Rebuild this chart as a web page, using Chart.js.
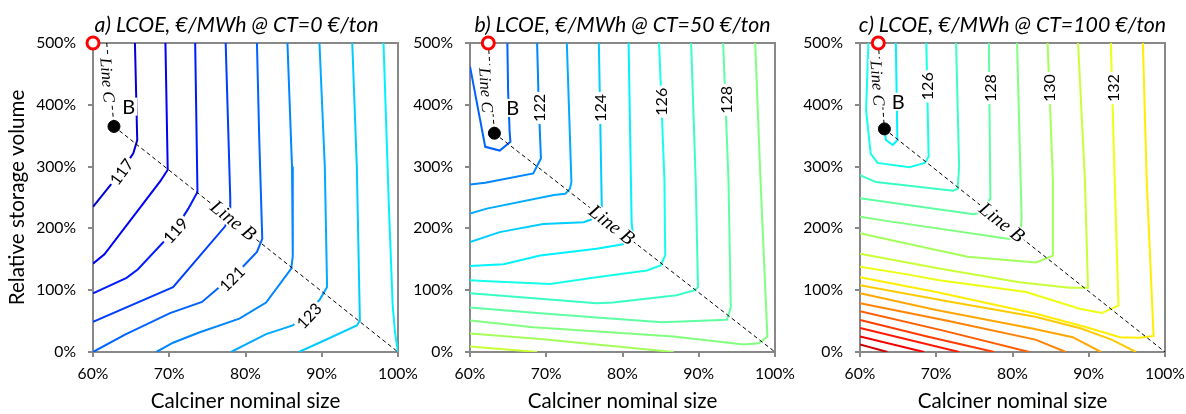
<!DOCTYPE html>
<html>
<head>
<meta charset="utf-8">
<script src="https://cdn.jsdelivr.net/npm/chart.js@4.4.1/dist/chart.umd.min.js"></script>
<style>
  html, body { margin: 0; padding: 0; background: #fff; }
  #wrap { position: relative; width: 1186px; height: 414px; }
  #wrap canvas { position: absolute; left: 0; top: 0; }
</style>
</head>
<body>
<div id="wrap">
  <canvas id="ca" width="1186" height="414"></canvas>
  <canvas id="cb" width="1186" height="414"></canvas>
  <canvas id="cc" width="1186" height="414"></canvas>
</div>
<script>
// ticks and titles
const xTicks = [60, 70, 80, 90, 100];
const yTicks = [0, 100, 200, 300, 400, 500];
const titles = ["a) LCOE, €/MWh @ CT=0 €/ton", "b) LCOE, €/MWh @ CT=50 €/ton", "c) LCOE, €/MWh @ CT=100 €/ton"];

// contour lines: [level, [[calciner size %, storage volume %], ...]]
const contoursA = [
  [117, [[65.5,500],[65.8,343],[65.3,322],[63.7,292],[60,235]]],
  [118, [[69.5,500],[69.8,295],[68.8,276],[61.5,158],[60,143]]],
  [119, [[73.4,500],[73.7,259],[72.5,232],[70.7,197],[65.9,134],[64.4,120],[60,95]]],
  [120, [[77.4,500],[78.0,249],[78.0,222],[77.3,203],[70.5,105],[60,49]]],
  [121, [[81.5,500],[81.8,346],[82.2,183],[81.5,162],[79.5,136],[74.3,81],[70.1,63],[64.2,28],[60,0]]],
  [122, [[85.5,500],[86.1,300],[86.2,155],[86.0,135],[82.7,80],[79.2,54],[74.0,32],[70.5,15],[68.3,0]]],
  [123, [[89.7,500],[90.4,300],[90.7,105],[89.7,84],[86.2,43],[82.7,29],[78.1,0]]],
  [124, [[94.0,500],[94.6,300],[95.0,51],[94.6,43],[90.4,19],[87.0,0]]],
  [125, [[98.1,500],[98.8,238],[99.3,76],[99.6,32],[100,0]]]
];
const contoursB = [
  [121, [[60,462],[62.0,332],[63.9,326],[65.3,340],[65.2,356],[65.0,421],[64.9,500]]],
  [122, [[68.8,500],[69.0,408],[69.3,313],[68.3,289],[62.0,274],[60,271]]],
  [123, [[72.7,500],[73.3,275],[73.1,264],[72.5,256],[71.0,254],[62.2,232],[60,224]]],
  [124, [[76.9,500],[77.3,223],[75.8,214],[74.9,210],[69.6,207],[63.9,194],[60,178]]],
  [125, [[80.8,500],[81.2,208],[81.4,189],[80.8,178],[79.9,174],[76.6,167],[69.2,156],[64.4,142],[60,139]]],
  [126, [[84.8,500],[85.5,278],[85.6,156],[85.0,140],[83.2,132],[76.6,121],[70.5,110],[61.8,115],[60,116]]],
  [127, [[89.0,500],[89.6,278],[89.9,105],[89.5,100],[87.1,92],[78.8,80],[76.6,79],[69.2,86],[60,95]]],
  [128, [[93.2,500],[93.9,278],[94.2,72],[93.7,52],[85.2,48],[76.6,56],[68.8,63],[60,72]]],
  [129, [[97.4,500],[98.1,278],[99.0,25],[97.9,14],[95.9,12],[86.7,25],[68.3,40],[60,51]]],
  [130, [[60,30],[69.2,21],[86.7,0]]],
  [131, [[60,9],[68.8,0]]]
];
const contoursC = [
  [125, [[64.7,500],[64.9,343],[64.3,335],[63.4,343],[63.2,361]]],
  [126, [[61.1,500],[60.8,391],[61.4,321],[62.3,306],[66.5,299],[68.5,306],[69.0,316],[68.7,500]]],
  [127, [[60,286],[62.1,275],[72.2,261],[72.8,264],[73.0,299],[72.6,500]]],
  [128, [[60,249],[74.9,223],[76.0,226],[77.1,249],[76.9,500]]],
  [129, [[60,219],[63.0,213],[79.6,183],[81.0,185],[81.2,216],[80.6,500]]],
  [130, [[60,192],[63.4,183],[74.1,154],[83.1,145],[85.3,156],[85.3,278],[84.6,500]]],
  [131, [[60,159],[70.4,135],[80.9,113],[87.5,104],[89.9,104],[89.5,278],[88.6,500]]],
  [132, [[60,138],[66.0,126],[70.4,116],[81.8,97],[88.8,70],[91.7,63],[93.9,75],[93.4,278],[92.9,500]]],
  [133, [[60,121],[70.0,97],[83.1,62],[89.7,40],[94.1,24],[96.7,23],[98.5,26],[97.6,278],[97.1,500]]],
  [134, [[60,108],[72,81],[83,57],[89,38],[93,20],[96.2,0]]],
  [135, [[60,95],[70,68],[82.6,38],[87.9,24],[91.6,0]]],
  [136, [[60,79],[71.3,51],[83,20],[87,0]]],
  [137, [[60,66],[70.8,35],[82.2,0]]],
  [138, [[60,52],[68.8,25],[77.6,0]]],
  [139, [[60,39],[73.0,0]]],
  [140, [[60,25],[68.4,0]]],
  [141, [[60,12],[63.6,0]]]
];

// contour labels: [level, x, y, angle in degrees]
const labelsA = [[117, 63.7, 292, -54], [119, 70.8, 197, -48], [121, 78.2, 119, -45], [123, 88.3, 59, -47]];
const labelsB = [[122, 69.0, 395, -90], [124, 77.0, 395, -90], [126, 85.0, 405, -90], [128, 93.5, 408, -90]];
const labelsC = [[126, 68.8, 430, -90], [128, 77.0, 427, -90], [130, 84.8, 427, -90], [132, 93.1, 427, -90]];

// point B, red circle, lines B and C (one entry per panel)
const pointB = [[62.75, 365], [63.2, 354], [63.2, 361]];
const pointRed = [[60, 500], [62.4, 500], [62.4, 500]];
const lineCTop = [[61.8, 500], [62.4, 500], [62.4, 500]];
const lineBEnd = [100, 0];
const lineBText = [[78.4, 213], [78.6, 206], [78.6, 210]];
const lineCText = [[61.9, 440], [62.1, 424], [62.3, 435]];
const labelBPos = [[64.7, 397], [65.6, 395], [65.0, 405]];

const GRAY = '#888888';

// font size that makes a text reach a given width
function fitSize(text, font, target) {
  const c = document.createElement('canvas').getContext('2d');
  c.font = font.replace('SIZE', '100px');
  return Math.round(1000 * target / c.measureText(text).width) / 10;
}
const tickSize = fitSize('500%', 'SIZE Lato', 40);
const axisTitleSize = fitSize('Calciner nominal size', 'SIZE Lato', 190);
const titleSize = fitSize(titles[0], 'italic SIZE Lato', 284);
const labelSize = fitSize('122', 'SIZE Lato', 28);
const lineBSize = fitSize('Line B', 'italic SIZE "Liberation Serif"', 52);
const lineCSize = fitSize('Line C', 'italic SIZE "Liberation Serif"', 45);

function jet(level) {
  const t = (level - 114.7) / 28.5;
  const c = v => Math.round(255 * Math.max(0, Math.min(1, v)));
  return 'rgb(' + c(1.5 - Math.abs(4 * t - 3)) + ',' + c(1.5 - Math.abs(4 * t - 2)) + ',' + c(1.5 - Math.abs(4 * t - 1)) + ')';
}

const pt = p => ({ x: p[0], y: p[1] });

function boxText(ctx, text, px, py, ang, font, h) {
  ctx.save();
  ctx.translate(px, py);
  ctx.rotate(ang);
  ctx.font = font;
  const w = ctx.measureText(text).width;
  ctx.fillStyle = '#fff';
  ctx.fillRect(-w / 2 - 2, -h / 2, w + 4, h);
  ctx.fillStyle = '#000';
  ctx.textAlign = 'center';
  ctx.textBaseline = 'middle';
  ctx.fillText(text, 0, 1);
  ctx.restore();
}

const overlay = {
  id: 'overlay',
  beforeDatasetsDraw(chart) {
    const { ctx, chartArea: a } = chart;
    ctx.save();
    ctx.strokeStyle = GRAY;
    ctx.lineWidth = 2;
    ctx.strokeRect(a.left, a.top, a.right - a.left, a.bottom - a.top);
    ctx.restore();
  },
  afterDatasetDraw(chart, args, opts) {
    if (args.index !== 2) return;
    const { ctx, scales: { x, y } } = chart;
    const k = opts.k;
    const px = v => x.getPixelForValue(v);
    const py = v => y.getPixelForValue(v);
    opts.labels.forEach(([lev, lx, ly, ang]) => {
      boxText(ctx, String(lev), px(lx), py(ly), ang * Math.PI / 180, labelSize + 'px Lato', 15);
    });
    const b = pointB[k];
    const angB = Math.atan2(py(lineBEnd[1]) - py(b[1]), px(lineBEnd[0]) - px(b[0]));
    boxText(ctx, 'Line B', px(lineBText[k][0]), py(lineBText[k][1]), angB, 'italic ' + lineBSize + 'px "Liberation Serif"', 16);
    const c = lineCTop[k];
    const angC = Math.atan2(py(b[1]) - py(c[1]), px(b[0]) - px(c[0]));
    boxText(ctx, 'Line C', px(lineCText[k][0]), py(lineCText[k][1]), angC, 'italic ' + lineCSize + 'px "Liberation Serif"', 15);
    boxText(ctx, 'B', px(labelBPos[k][0]), py(labelBPos[k][1]), 0, '20px Lato', 18);
  },
  afterDraw(chart, args, opts) {
    const { ctx, chartArea: a } = chart;
    ctx.save();
    ctx.font = 'italic ' + titleSize + 'px Lato';
    ctx.fillStyle = '#000';
    ctx.textAlign = 'center';
    ctx.textBaseline = 'alphabetic';
    ctx.fillText(titles[opts.k], (a.left + a.right) / 2 + (opts.k === 0 ? -9 : 0), 32);
    ctx.restore();
  }
};

const padLeft = [0, 400, 790];
const padRight = [788, 411, 21];
const yWidth = [93, 70, 70];

function makePanel(id, k, contours, labels) {
  const datasets = [
    { data: [pt(pointB[k])], pointRadius: 6, pointHoverRadius: 6, backgroundColor: '#000', borderColor: '#000', clip: false },
    { data: [pt(pointRed[k])], pointRadius: 6, pointHoverRadius: 6, backgroundColor: '#fff', borderColor: '#ff0000', borderWidth: 3, clip: false },
    { data: [pt(pointB[k]), pt(lineBEnd)], showLine: true, borderColor: '#000', borderWidth: 1, borderDash: [4, 3], pointRadius: 0 },
    { data: [pt(lineCTop[k]), pt(pointB[k])], showLine: true, borderColor: '#000', borderWidth: 1, borderDash: [4, 3], pointRadius: 0 }
  ];
  contours.forEach(([lev, pts]) => {
    datasets.push({ data: pts.map(pt), showLine: true, borderColor: jet(lev), borderWidth: 2, pointRadius: 0, tension: 0 });
  });

  new Chart(document.getElementById(id), {
    type: 'scatter',
    data: { datasets },
    plugins: [overlay],
    options: {
      responsive: false,
      animation: false,
      events: [],
      layout: { padding: { left: padLeft[k], right: padRight[k], top: 43, bottom: 0 } },
      plugins: {
        legend: { display: false },
        tooltip: { enabled: false },
        overlay: { k, labels }
      },
      scales: {
        x: {
          type: 'linear', min: 60, max: 100,
          afterBuildTicks: s => { s.ticks = xTicks.map(v => ({ value: v })); },
          afterFit: s => { s.height = 62; s.paddingLeft = 0; s.paddingRight = 0; },
          ticks: { callback: v => v + '%', font: { family: 'Lato', size: tickSize }, color: '#000', padding: 8, maxRotation: 0, autoSkip: false },
          grid: { drawOnChartArea: false, tickLength: 5, color: GRAY, lineWidth: 2 },
          border: { color: GRAY, width: 2 },
          title: { display: true, text: 'Calciner nominal size', font: { family: 'Lato', size: axisTitleSize }, color: '#000', padding: { top: 0, bottom: 0 } }
        },
        y: {
          type: 'linear', min: 0, max: 500,
          afterBuildTicks: s => { s.ticks = yTicks.map(v => ({ value: v })); },
          afterFit: s => { s.width = yWidth[k]; s.paddingTop = 0; s.paddingBottom = 0; },
          ticks: { callback: v => v + '%', font: { family: 'Lato', size: tickSize }, color: '#000', padding: 12, autoSkip: false },
          grid: { drawOnChartArea: false, tickLength: 5, color: GRAY, lineWidth: 2 },
          border: { color: GRAY, width: 2 },
          title: { display: k === 0, text: 'Relative storage volume', font: { family: 'Lato', size: axisTitleSize }, color: '#000', padding: { top: 5, bottom: 0 } }
        }
      }
    }
  });
}

makePanel('ca', 0, contoursA, labelsA);
makePanel('cb', 1, contoursB, labelsB);
makePanel('cc', 2, contoursC, labelsC);
</script>
</body>
</html>
